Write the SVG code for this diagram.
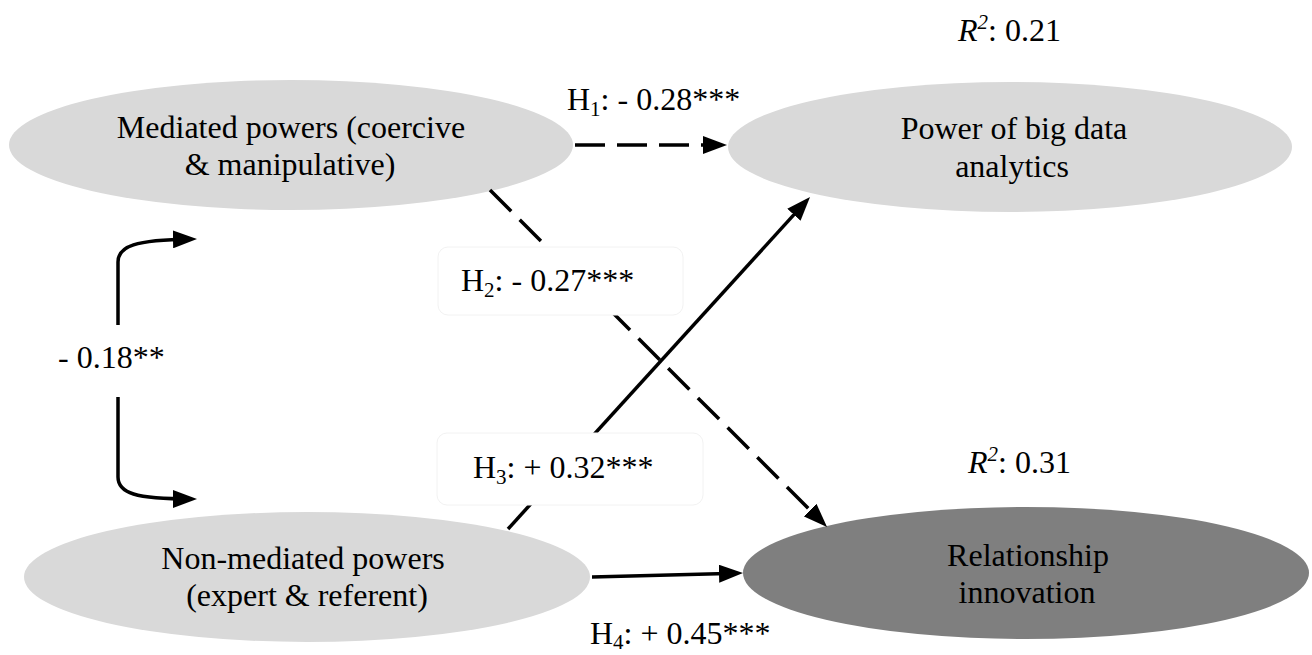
<svg xmlns="http://www.w3.org/2000/svg" width="1312" height="655" viewBox="0 0 1312 655" font-family="'Liberation Serif', 'DejaVu Serif', serif">
<style>
  text { font-family: 'Liberation Serif', 'DejaVu Serif', serif; font-size: 32px; fill: #000; }
  .c { text-anchor: middle; }
  .sub { font-size: 21px; }
  .light { fill: #d9d9d9; }
  .dark { fill: #7f7f7f; }
  .ln { fill: none; stroke: #000; stroke-width: 3.5; }
  .dash { stroke-dasharray: 30 12; }
  .box { fill: #fff; stroke: #f2f2f2; stroke-width: 1; }
</style>
<defs>
  <marker id="ah" markerUnits="userSpaceOnUse" markerWidth="24" markerHeight="18" viewBox="0 0 24 18" refX="18" refY="9" orient="auto">
    <path d="M0,0 L24,9 L0,18 z" fill="#000"/>
  </marker>
</defs>
<rect width="1312" height="655" fill="#fff"/>

<g id="node-mediated">
  <ellipse class="light" cx="291" cy="145" rx="282" ry="65"/>
  <text class="c" x="291" y="138">Mediated powers (coercive</text>
  <text class="c" x="290" y="175">&amp; manipulative)</text>
</g>
<g id="node-bigdata">
  <ellipse class="light" cx="1010" cy="147" rx="282" ry="65"/>
  <text class="c" x="1014" y="139">Power of big data</text>
  <text class="c" x="1012" y="177">analytics</text>
</g>
<g id="node-nonmediated">
  <ellipse class="light" cx="307" cy="577" rx="283" ry="65"/>
  <text class="c" x="303" y="569">Non-mediated powers</text>
  <text class="c" x="307" y="606">(expert &amp; referent)</text>
</g>
<g id="node-innovation">
  <ellipse class="dark" cx="1026" cy="573" rx="283" ry="66"/>
  <text class="c" x="1028" y="566">Relationship</text>
  <text class="c" x="1027" y="603">innovation</text>
</g>

<g id="connectors">
  <path class="ln dash" d="M575,145 L721,145" marker-end="url(#ah)"/>
  <path class="ln dash" d="M490,190 L822.8,522.8" marker-end="url(#ah)"/>
  <path class="ln" d="M508,529 L806,201.4" marker-end="url(#ah)"/>
  <path class="ln" d="M592,577 L737,573.2" marker-end="url(#ah)"/>
  <path class="ln" d="M118,325 V262 C118,246 135,240 191,239" marker-end="url(#ah)"/>
  <path class="ln" d="M118,397 V477 C118,493 135,499 191,499" marker-end="url(#ah)"/>
</g>

<g id="label-h1">
  <text x="567" y="110">H<tspan class="sub" dy="6">1</tspan><tspan dy="-6">: - 0.28***</tspan></text>
</g>
<g id="label-h2">
  <rect class="box" x="438" y="247" width="245" height="68" rx="10"/>
  <text x="461" y="291">H<tspan class="sub" dy="6">2</tspan><tspan dy="-6">: - 0.27***</tspan></text>
</g>
<g id="label-h3">
  <rect class="box" x="437" y="433" width="266" height="72" rx="10"/>
  <text x="473" y="478">H<tspan class="sub" dy="6">3</tspan><tspan dy="-6">: + 0.32***</tspan></text>
</g>
<g id="label-h4">
  <text x="590" y="644">H<tspan class="sub" dy="5">4</tspan><tspan dy="-5">: + 0.45***</tspan></text>
</g>
<g id="label-corr">
  <text x="58" y="368">- 0.18**</text>
</g>
<g id="label-r2-bigdata">
  <text x="958" y="41"><tspan font-style="italic">R</tspan><tspan class="sub" font-style="italic" dy="-12">2</tspan><tspan dy="12">: 0.21</tspan></text>
</g>
<g id="label-r2-innovation">
  <text x="968" y="473"><tspan font-style="italic">R</tspan><tspan class="sub" font-style="italic" dy="-12">2</tspan><tspan dy="12">: 0.31</tspan></text>
</g>
</svg>
